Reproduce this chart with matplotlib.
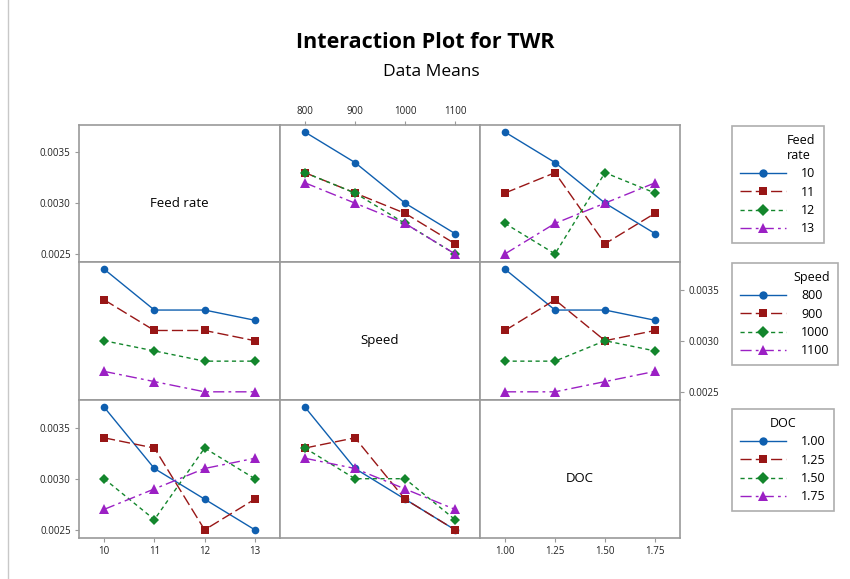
"""Interaction plot matrix for TWR (data means)."""

from __future__ import annotations

import matplotlib

matplotlib.use("Agg")

import matplotlib.pyplot as plt
from matplotlib.lines import Line2D


FEED_LEVELS = [10, 11, 12, 13]
SPEED_LEVELS = [800, 900, 1000, 1100]
DOC_LEVELS = [1.00, 1.25, 1.50, 1.75]

FEED_LABELS = ["10", "11", "12", "13"]
SPEED_LABELS = ["800", "900", "1000", "1100"]
DOC_LABELS = ["1.00", "1.25", "1.50", "1.75"]

# Row 1: lines = Feed rate
FEED_BY_SPEED = [
    [0.0037, 0.0034, 0.0030, 0.0027],
    [0.0033, 0.0031, 0.0029, 0.0026],
    [0.0033, 0.0031, 0.0028, 0.0025],
    [0.0032, 0.0030, 0.0028, 0.0025],
]
FEED_BY_DOC = [
    [0.0037, 0.0034, 0.0030, 0.0027],
    [0.0031, 0.0033, 0.0026, 0.0029],
    [0.0028, 0.0025, 0.0033, 0.0031],
    [0.0025, 0.0028, 0.0030, 0.0032],
]

# Row 2: lines = Speed
SPEED_BY_FEED = [
    [0.0037, 0.0033, 0.0033, 0.0032],
    [0.0034, 0.0031, 0.0031, 0.0030],
    [0.0030, 0.0029, 0.0028, 0.0028],
    [0.0027, 0.0026, 0.0025, 0.0025],
]
SPEED_BY_DOC = [
    [0.0037, 0.0033, 0.0033, 0.0032],
    [0.0031, 0.0034, 0.0030, 0.0031],
    [0.0028, 0.0028, 0.0030, 0.0029],
    [0.0025, 0.0025, 0.0026, 0.0027],
]

# Row 3: lines = DOC
DOC_BY_FEED = [
    [0.0037, 0.0031, 0.0028, 0.0025],
    [0.0034, 0.0033, 0.0025, 0.0028],
    [0.0030, 0.0026, 0.0033, 0.0030],
    [0.0027, 0.0029, 0.0031, 0.0032],
]
DOC_BY_SPEED = [
    [0.0037, 0.0031, 0.0028, 0.0025],
    [0.0033, 0.0034, 0.0028, 0.0025],
    [0.0033, 0.0030, 0.0030, 0.0026],
    [0.0032, 0.0031, 0.0029, 0.0027],
]

Y_TICKS = [0.0025, 0.0030, 0.0035]
Y_LABELS = ["0.0025", "0.0030", "0.0035"]

COLORS = ["#0F5FAF", "#981616", "#13862C", "#9B20C4"]
MARKERS = ["o", "s", "D", "^"]
MARKER_SIZES = [5.5, 5.5, 5.2, 6.5]
LINESTYLES = ["-", (0, (8, 3)), (0, (3, 2.5)), (0, (8, 3, 2, 3))]
SPINE_COLOR = "#9a9a9a"

FIG_W, FIG_H = 850, 579
COL_EDGES = [79, 280, 480, 680]
ROW_EDGES = [125, 262, 400, 538]


def _panel_rect(row: int, col: int) -> list[float]:
    left = COL_EDGES[col] / FIG_W
    width = (COL_EDGES[col + 1] - COL_EDGES[col]) / FIG_W
    bottom = 1 - ROW_EDGES[row + 1] / FIG_H
    height = (ROW_EDGES[row + 1] - ROW_EDGES[row]) / FIG_H
    return [left, bottom, width, height]


def _style_axis(axis) -> None:
    for spine in axis.spines.values():
        spine.set_color(SPINE_COLOR)
        spine.set_linewidth(1.2)
    axis.set_ylim(0.00242, 0.00377)
    axis.tick_params(
        which="both",
        length=3,
        width=0.8,
        color=SPINE_COLOR,
        labelsize=7,
        labelcolor="#222222",
        pad=3,
        left=False,
        right=False,
        top=False,
        bottom=False,
        labelleft=False,
        labelright=False,
        labeltop=False,
        labelbottom=False,
    )
    axis.set_yticks(Y_TICKS)
    axis.set_yticklabels(Y_LABELS)


def _draw_lines(axis, x_values, series) -> None:
    for index, values in enumerate(series):
        axis.plot(
            x_values,
            values,
            color=COLORS[index],
            linestyle=LINESTYLES[index],
            linewidth=1.0,
            marker=MARKERS[index],
            markersize=MARKER_SIZES[index],
            markeredgewidth=0,
        )


def main() -> None:
    plt.rcParams["font.family"] = ["Open Sans", "DejaVu Sans"]
    figure = plt.figure(figsize=(FIG_W / 100, FIG_H / 100), dpi=100)

    figure.add_artist(
        Line2D([8 / FIG_W, 8 / FIG_W], [0, 1], color="#c8c8c8", linewidth=1.0)
    )

    figure.text(
        0.500, 1 - 42 / FIG_H, "Interaction Plot for TWR",
        ha="center", va="center", fontsize=15.5, fontweight="bold",
    )
    figure.text(
        0.508, 1 - 72 / FIG_H, "Data Means",
        ha="center", va="center", fontsize=12.5,
    )

    x_levels = [FEED_LEVELS, SPEED_LEVELS, DOC_LEVELS]
    x_labels = [FEED_LABELS, SPEED_LABELS, DOC_LABELS]
    x_limits = [(9.5, 13.5), (750, 1150), (0.875, 1.875)]
    names = ["Feed rate", "Speed", "DOC"]
    panels = {
        (0, 1): FEED_BY_SPEED,
        (0, 2): FEED_BY_DOC,
        (1, 0): SPEED_BY_FEED,
        (1, 2): SPEED_BY_DOC,
        (2, 0): DOC_BY_FEED,
        (2, 1): DOC_BY_SPEED,
    }

    for row in range(3):
        for col in range(3):
            axis = figure.add_axes(_panel_rect(row, col))
            _style_axis(axis)
            axis.set_xlim(*x_limits[col])
            axis.set_xticks(x_levels[col])
            axis.set_xticklabels(x_labels[col])

            if row == col:
                axis.text(
                    0.5, 0.43, names[row], transform=axis.transAxes,
                    ha="center", va="center", fontsize=9.5,
                )
            else:
                _draw_lines(axis, x_levels[col], panels[(row, col)])

            if col == 0 and row in (0, 2):
                axis.tick_params(left=True, labelleft=True)
            if col == 2 and row == 1:
                axis.tick_params(right=True, labelright=True)
            if row == 0 and col == 1:
                axis.tick_params(top=True, labeltop=True)
            if row == 2 and col in (0, 2):
                axis.tick_params(bottom=True, labelbottom=True)

    legend_specs = [
        ("Feed\nrate", FEED_LABELS, 126, "right"),
        ("Speed", SPEED_LABELS, 263, "right"),
        ("DOC", DOC_LABELS, 409, "center"),
    ]
    for title, labels, top, align in legend_specs:
        handles = [
            Line2D(
                [], [], color=COLORS[i], linestyle=LINESTYLES[i],
                linewidth=1.0, marker=MARKERS[i],
                markersize=MARKER_SIZES[i] + 0.5, markeredgewidth=0,
            )
            for i in range(4)
        ]
        legend = figure.legend(
            handles, labels, title=title,
            loc="upper left",
            bbox_to_anchor=(732 / FIG_W, 1 - top / FIG_H),
            borderaxespad=0,
            fontsize=9, title_fontsize=9,
            handlelength=3.7, handletextpad=1.2,
            labelspacing=0.42, borderpad=0.65,
            frameon=True, fancybox=False,
            alignment=align, markerfirst=True,
        )
        frame = legend.get_frame()
        frame.set_edgecolor(SPINE_COLOR)
        frame.set_linewidth(1.2)

    figure.savefig("out.png", dpi=100)
    plt.close(figure)


if __name__ == "__main__":
    main()
